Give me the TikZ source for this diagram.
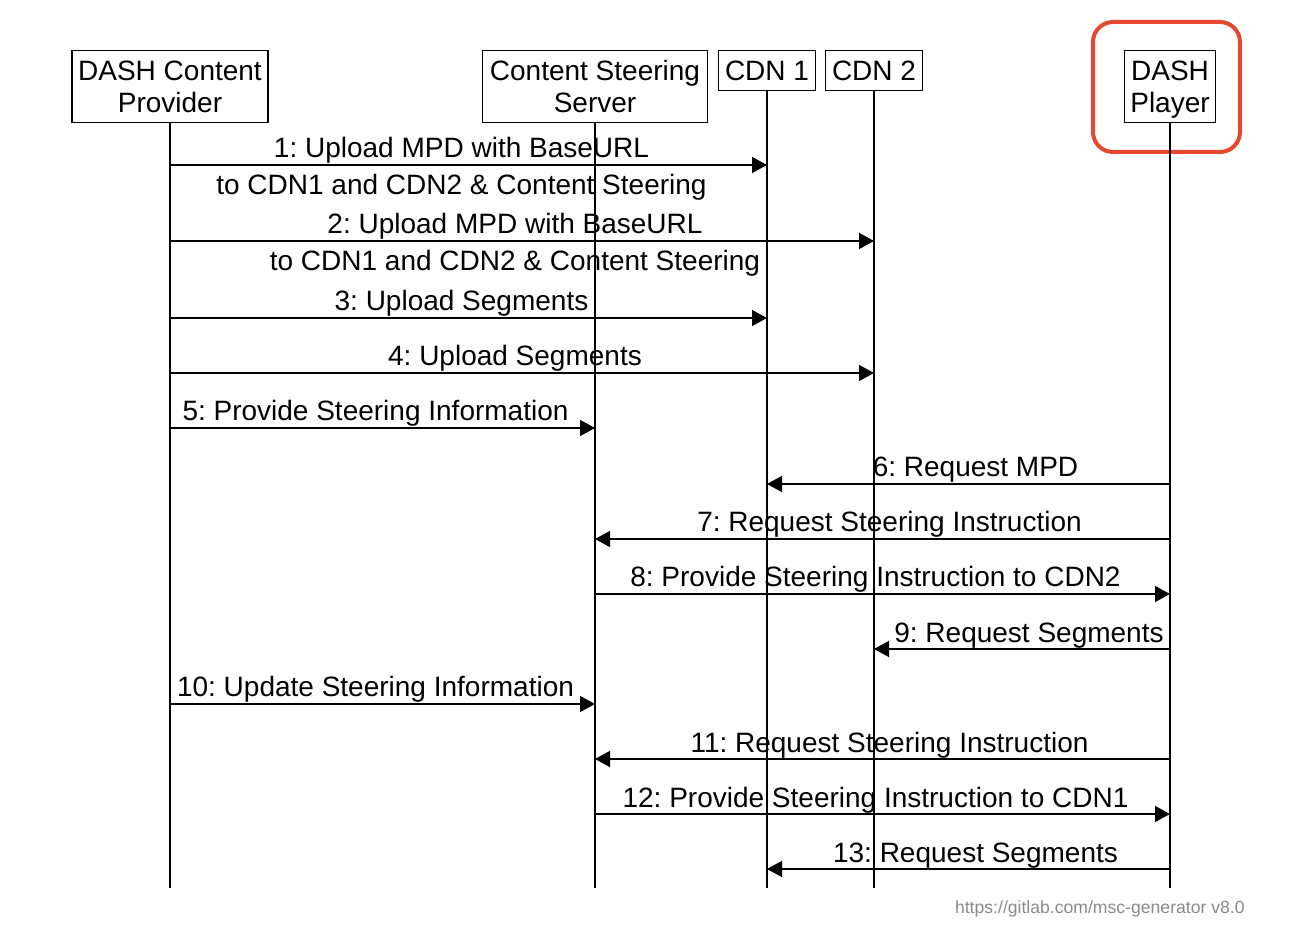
\documentclass[tikz,border=0pt]{standalone}
\usepackage{fontspec}
\setmainfont{Liberation Sans}
\usepackage{xcolor}
\usetikzlibrary{positioning,calc,arrows.meta}
\definecolor{hilite}{HTML}{E5482F}
\definecolor{footgray}{HTML}{8A8A8A}
\frenchspacing

\begin{document}
\begin{tikzpicture}[x=0.5pt,y=-0.5pt,
    entity/.style={draw, line width=0.7pt, anchor=north, inner xsep=3pt, inner ysep=0pt,
        align=center, font=\fontsize{14}{16}\selectfont},
    onerow/.style={entity, minimum height=20pt},
    tworow/.style={entity, minimum height=36pt},
    life/.style={line width=0.7pt},
    msg/.style={line width=0.7pt, -{Triangle[length=7.5pt,width=8pt]}},
    lbl/.style={midway, inner sep=0pt, text height=10pt, text depth=3pt,
        font=\fontsize{14}{16}\selectfont},
    lblup/.style={lbl, yshift=7pt},
    lbldn/.style={lbl, yshift=-11.5pt},
    shiftr/.style={xshift=-3.5pt},
    shiftl/.style={xshift=3.5pt}]
    \useasboundingbox (0,0) rectangle (1302,946);

    % Entities
    \node[tworow, minimum width=98pt] (cp) at (170,50) {DASH Content\\Provider};
    \node[tworow, minimum width=112.5pt] (css) at (595,50) {Content Steering\\Server};
    \node[onerow, minimum width=48.5pt] (cdna) at (767,50) {CDN 1};
    \node[onerow, minimum width=48.5pt] (cdnb) at (874,50) {CDN 2};
    \node[tworow, minimum width=45pt] (pl) at (1170,50) {DASH\\\smash{Player}};
    \draw[hilite, line width=2pt, rounded corners=10pt] (1093,22) rectangle (1240,152);

    % Lifelines
    \coordinate (bottom) at (0,888);
    \foreach \n in {cp,css,cdna,cdnb,pl}
        \draw[life] (\n.south) -- (\n.south |- bottom);

    % Message rows
    \coordinate (m1) at (0,165);
    \coordinate (m2) at (0,241);
    \coordinate (m3) at (0,318);
    \coordinate (m4) at (0,373);
    \coordinate (m5) at (0,428);
    \coordinate (m6) at (0,484);
    \coordinate (m7) at (0,539);
    \coordinate (m8) at (0,594);
    \coordinate (m9) at (0,649);
    \coordinate (m10) at (0,704);
    \coordinate (m11) at (0,759);
    \coordinate (m12) at (0,814);
    \coordinate (m13) at (0,869);

    % Messages
    \draw[msg] (cp |- m1) -- node[lblup, shiftr] {1: Upload MPD with BaseURL}
        node[lbldn, shiftr] {to CDN1 and CDN2 \& Content Steering} (cdna |- m1);
    \draw[msg] (cp |- m2) -- node[lblup, shiftr] {2: Upload MPD with BaseURL}
        node[lbldn, shiftr] {to CDN1 and CDN2 \& Content Steering} (cdnb |- m2);
    \draw[msg] (cp |- m3) -- node[lblup, shiftr] {3: Upload Segments} (cdna |- m3);
    \draw[msg] (cp |- m4) -- node[lblup, shiftr] {4: Upload Segments} (cdnb |- m4);
    \draw[msg] (cp |- m5) -- node[lblup, shiftr] {5: Provide Steering Information} (css |- m5);
    \draw[msg] (pl |- m6) -- node[lblup, shiftl] {6: Request MPD} (cdna |- m6);
    \draw[msg] (pl |- m7) -- node[lblup, shiftl] {7: Request Steering Instruction} (css |- m7);
    \draw[msg] (css |- m8) -- node[lblup, shiftr] {8: Provide Steering Instruction to CDN2} (pl |- m8);
    \draw[msg] (pl |- m9) -- node[lblup, shiftl] {9: Request Segments} (cdnb |- m9);
    \draw[msg] (cp |- m10) -- node[lblup, shiftr] {10: Update Steering Information} (css |- m10);
    \draw[msg] (pl |- m11) -- node[lblup, shiftl] {11: Request Steering Instruction} (css |- m11);
    \draw[msg] (css |- m12) -- node[lblup, shiftr] {12: Provide Steering Instruction to CDN1} (pl |- m12);
    \draw[msg] (pl |- m13) -- node[lblup, shiftl] {13: Request Segments} (cdna |- m13);

    % Footer
    \node[anchor=east, inner sep=0pt, text=footgray, font=\fontsize{8.8}{10}\selectfont]
        (foot) at (1245,909) {https://gitlab.com/msc-generator v8.0};
\end{tikzpicture}
\end{document}
